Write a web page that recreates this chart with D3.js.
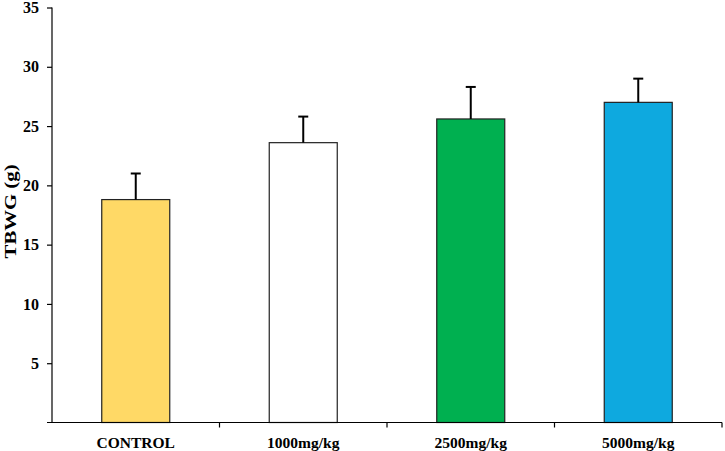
<!DOCTYPE html>
<html><head><meta charset="utf-8">
<script src="https://cdn.jsdelivr.net/npm/d3@7/dist/d3.min.js"></script>
<style>body{margin:0;background:#fff}</style>
</head><body>
<svg id="c" width="725" height="451"></svg>
<script>
const categories = ["CONTROL", "1000mg/kg", "2500mg/kg", "5000mg/kg"];
const values = [18.8, 23.6, 25.6, 27.0];
const errors = [2.2, 2.2, 2.7, 2.0];
const colors = ["#FFD966", "#FFFFFF", "#00B050", "#0EA9DF"];
const yTicks = [5, 10, 15, 20, 25, 30, 35];
const yLabel = "TBWG (g)";

const svg = d3.select("#c");
const m = {left: 52, right: 3, top: 7.5, bottom: 28.5};
const W = 725, H = 451;
const x = d3.scaleBand().domain(categories).range([m.left, W - m.right]).paddingInner(0.594).paddingOuter(0.297);
const y = d3.scaleLinear().domain([0, 35]).range([H - m.bottom, m.top]);
const font = "'Liberation Serif','Times New Roman',serif";

// bars
svg.append("g").selectAll("rect").data(categories).join("rect")
  .attr("x", d => x(d)).attr("width", x.bandwidth())
  .attr("y", (d, i) => y(values[i])).attr("height", (d, i) => y(0) - y(values[i]))
  .attr("fill", (d, i) => colors[i]).attr("stroke", "#222").attr("stroke-width", 1.2);

// error bars
const eg = svg.append("g").attr("stroke", "#000").attr("stroke-width", 2);
categories.forEach((c, i) => {
  const cx = x(c) + x.bandwidth() / 2;
  eg.append("line").attr("x1", cx).attr("x2", cx).attr("y1", y(values[i])).attr("y2", y(values[i] + errors[i]));
  eg.append("line").attr("x1", cx - 5).attr("x2", cx + 5).attr("y1", y(values[i] + errors[i])).attr("y2", y(values[i] + errors[i]));
});

// y axis
const ya = svg.append("g").attr("transform", `translate(${m.left},0)`)
  .call(d3.axisLeft(y).tickValues(yTicks).tickSize(5).tickPadding(8));
ya.select(".domain").attr("stroke", "#000").attr("stroke-width", 1.2).attr("d", `M0,${y(35)}V${y(0)}`);
ya.selectAll(".tick line").attr("stroke", "#000").attr("stroke-width", 1.2);
ya.selectAll(".tick text").attr("font-family", font).attr("font-weight", "bold").attr("font-size", 16).attr("fill", "#000");

// x axis
const xa = svg.append("g").attr("transform", `translate(0,${y(0)})`)
  .call(d3.axisBottom(x).tickSize(0).tickPadding(14));
xa.select(".domain").attr("stroke", "#000").attr("stroke-width", 1.2).attr("d", `M${m.left - 5},0H${W - m.right}`);
xa.selectAll(".tick text").attr("font-family", font).attr("font-weight", "bold").attr("font-size", 15.5).attr("fill", "#000");
// category separators
const bounds = categories.map(c => x(c) - x.step() * x.paddingInner() / 2).concat([W - m.right]);
xa.selectAll(".sep").data(bounds.slice(1)).join("line").attr("class", "sep")
  .attr("x1", d => d).attr("x2", d => d).attr("y1", 0).attr("y2", 5).attr("stroke", "#000").attr("stroke-width", 1.2);

// y label
svg.append("text").attr("transform", `translate(16,${y(17.8)}) rotate(-90)`)
  .attr("text-anchor", "middle").attr("font-family", font).attr("font-weight", "bold").attr("font-size", 16)
  .attr("textLength", 94).attr("lengthAdjust", "spacingAndGlyphs")
  .text(yLabel);
</script>
</body></html>
